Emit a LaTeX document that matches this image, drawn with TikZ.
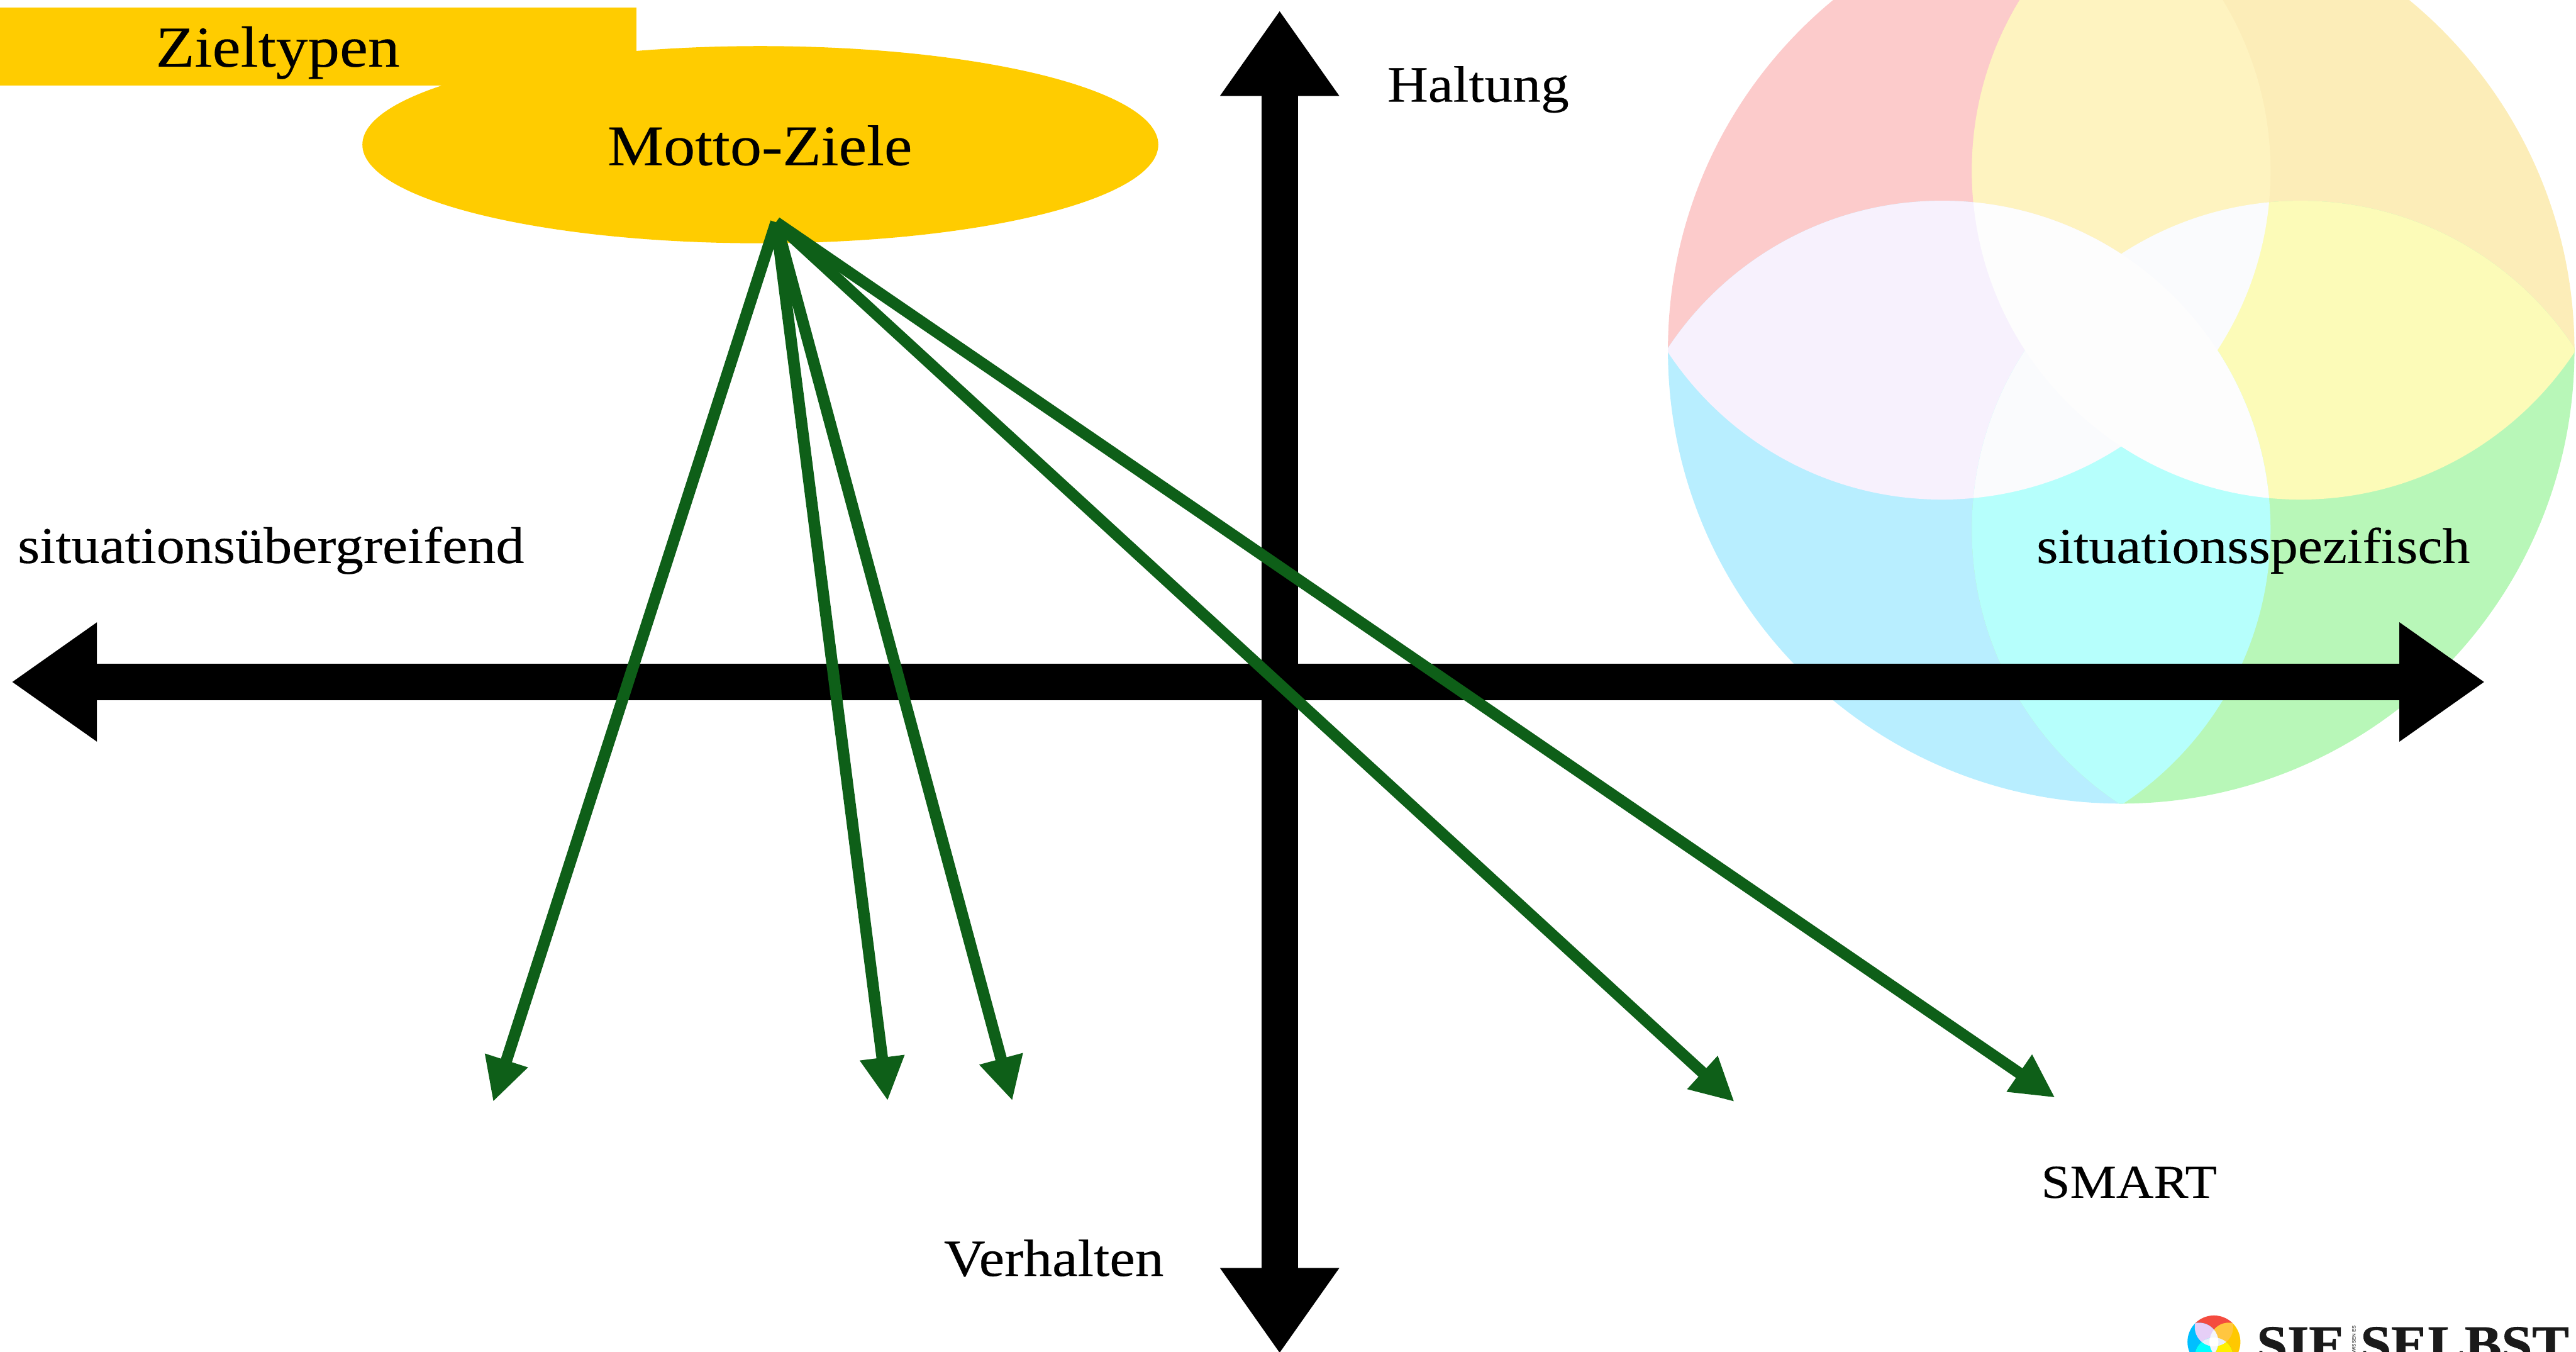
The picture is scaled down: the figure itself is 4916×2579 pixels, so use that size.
\documentclass[tikz,border=0pt]{standalone}
\usepackage{fontspec}
\usetikzlibrary{arrows.meta,shapes.geometric}
\setmainfont{Liberation Serif}
\newfontfamily\labfont[FakeStretch=1.1,FakeBold=0.25]{Liberation Serif}
\newfontfamily\logofont[FakeStretch=1.05,FakeBold=1]{Liberation Serif}
\newfontfamily\logosans{Liberation Sans}
\definecolor{goldc}{HTML}{FFCC00}
\definecolor{greenc}{HTML}{0E5F18}
\definecolor{inkc}{HTML}{1A1A1A}
% big flower colours
\definecolor{aR}{HTML}{FCCBCB}\definecolor{aO}{HTML}{FCEDB8}\definecolor{aB}{HTML}{B8EEFF}\definecolor{aG}{HTML}{B8F7B8}
\definecolor{aRO}{HTML}{FEF3C0}\definecolor{aRB}{HTML}{F7F1FD}\definecolor{aOG}{HTML}{FCFBB8}\definecolor{aBG}{HTML}{B6FFFC}
\definecolor{aROG}{HTML}{FAFBFD}\definecolor{aRBG}{HTML}{FAFBFD}\definecolor{aROB}{HTML}{FDFDFD}\definecolor{aOBG}{HTML}{FDFDFD}\definecolor{aALL}{HTML}{FDFDFD}
% logo colours
\definecolor{bR}{HTML}{F44B3F}\definecolor{bO}{HTML}{FFC800}\definecolor{bB}{HTML}{00BFFF}\definecolor{bG}{HTML}{33E033}
\definecolor{bRO}{HTML}{FFC640}\definecolor{bRB}{HTML}{E6CFF7}\definecolor{bOG}{HTML}{FFF000}\definecolor{bBG}{HTML}{00FFFF}
\definecolor{bROG}{HTML}{E8EEF8}\definecolor{bRBG}{HTML}{E8EEF8}\definecolor{bROB}{HTML}{F4F6FB}\definecolor{bOBG}{HTML}{F4F6FB}\definecolor{bALL}{HTML}{FFFFFF}
\def\pBig{(0,0) circle[radius=865]}
\def\pR{(-342,-342) circle[radius=627]}
\def\pO{(342,-342) circle[radius=627]}
\def\pB{(-342,342) circle[radius=627]}
\def\pG{(342,342) circle[radius=627]}
\newcommand{\oneP}[2]{\begin{scope}\clip #1;\fill[#2] \pBig;\end{scope}}
\newcommand{\twoP}[3]{\begin{scope}\clip #1;\clip #2;\fill[#3] \pBig;\end{scope}}
\newcommand{\threeP}[4]{\begin{scope}\clip #1;\clip #2;\clip #3;\fill[#4] \pBig;\end{scope}}
\newcommand{\flowerP}[5]{%
\begin{scope}[shift={(#1,#2)},scale=#3,rotate=#5]
\oneP{\pR}{#4R}\oneP{\pO}{#4O}\oneP{\pB}{#4B}\oneP{\pG}{#4G}
\twoP{\pR}{\pO}{#4RO}\twoP{\pR}{\pB}{#4RB}\twoP{\pO}{\pG}{#4OG}\twoP{\pB}{\pG}{#4BG}
\threeP{\pR}{\pO}{\pG}{#4ROG}\threeP{\pR}{\pB}{\pG}{#4RBG}\threeP{\pR}{\pO}{\pB}{#4ROB}\threeP{\pO}{\pB}{\pG}{#4OBG}
\begin{scope}\clip \pR;\clip \pO;\clip \pB;\fill[#4ALL] \pG;\end{scope}
\end{scope}}
\tikzset{
 lab/.style={font=\labfont\fontsize{#1}{#1}\selectfont,text=black,inner sep=0pt,anchor=base},
 axisline/.style={line width=0.70cm,black,{Triangle[length=1.63cm,width=2.16cm]}-{Triangle[length=1.63cm,width=2.16cm]}},
 goalarrow/.style={line width=0.22cm,greenc,-{Triangle[length=0.83cm,width=0.80cm]}},
 logotext/.style={font=\logofont\bfseries\fontsize{28.5}{28.5}\selectfont,text=inkc,inner sep=0pt,anchor=base west},
}
\begin{document}
\begin{tikzpicture}[x=0.01cm,y=-0.01cm]
\useasboundingbox (0,0) rectangle (4916,2579);
\begin{scope}
\clip (0,0) rectangle (4916,2579);
\flowerP{4048}{668}{1}{a}{0}
\flowerP{4225}{2560}{0.0584}{b}{-45}
\node[logotext] (sie) at (4306,2598) {SIE};
\node[logotext] (selbst) at (4504,2598) {SELBST};
\node[font=\logosans\fontsize{2.7}{2.7}\selectfont,text=inkc,rotate=90,anchor=east,inner sep=0pt] (wissen) at (4492,2528) {WISSEN ES};
\end{scope}
\fill[goldc] (0,14) rectangle (1215,163);
\node[ellipse,fill=goldc,minimum width=15.18cm,minimum height=3.76cm,inner sep=0pt] (motto) at (1451,276) {};
\node[lab=31.4] (zt) at (530,127) {Zieltypen};
\node[lab=31.1] (mz) at (1450,315) {Motto-Ziele};
\coordinate (lefttip) at (22,1301);
\coordinate (righttip) at (4742,1301);
\coordinate (toptip) at (2442,20);
\coordinate (bottomtip) at (2442,2582);
\draw[axisline] (lefttip) -- (righttip);
\draw[axisline] (toptip) -- (bottomtip);
\node[lab=27.8] (haltung) at (2821,194) {Haltung};
\node[lab=28.3] (verhalten) at (2011,2434) {Verhalten};
\node[lab=28] (uebergreifend) at (517,1074) {situationsübergreifend};
\node[lab=27.3] (spezifisch) at (4300,1074) {situationsspezifisch};
\node[lab=25.6] (smart) at (4063,2285) {SMART};
\coordinate (src) at (1481,424);
\coordinate (e1) at (941,2102);
\coordinate (e2) at (1694,2100);
\coordinate (e3) at (1932,2100);
\coordinate (e4) at (3310,2102);
\coordinate (e5) at (3922,2094);
\foreach \e in {e1,e2,e3,e4,e5} \draw[goalarrow] (src) -- (\e);
\end{tikzpicture}
\end{document}
